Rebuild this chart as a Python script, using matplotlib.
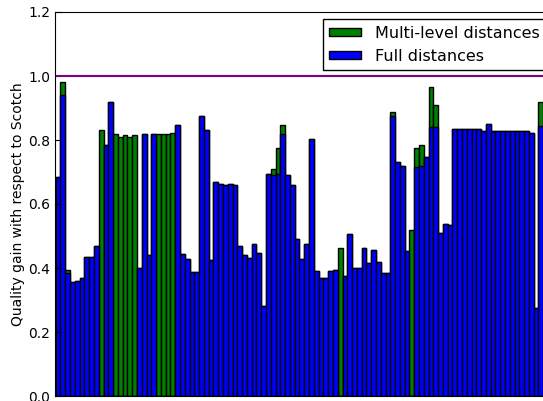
import matplotlib
matplotlib.use("Agg")
import matplotlib.pyplot as plt
import numpy as np

# quality gain for each graph
full_dist = [0.685, 0.94, 0.385, 0.355, 0.36, 0.37, 0.435, 0.435, 0.47, 0.0,
             0.785, 0.92, 0.0, 0.0, 0.0, 0.0, 0.0, 0.40, 0.82, 0.44,
             0.82, 0.0, 0.0, 0.0, 0.0, 0.847, 0.443, 0.429, 0.387, 0.387,
             0.875, 0.831, 0.425, 0.669, 0.662, 0.658, 0.661, 0.658, 0.468, 0.44,
             0.431, 0.476, 0.448, 0.281, 0.693, 0.69, 0.693, 0.819, 0.69, 0.658,
             0.49, 0.428, 0.475, 0.804, 0.39, 0.37, 0.37, 0.391, 0.393, 0.0,
             0.375, 0.507, 0.399, 0.399, 0.461, 0.417, 0.455, 0.42, 0.384, 0.384,
             0.875, 0.732, 0.718, 0.453, 0.0, 0.716, 0.718, 0.748, 0.84, 0.84,
             0.51, 0.539, 0.534, 0.835, 0.835, 0.835, 0.835, 0.835, 0.835, 0.829,
             0.849, 0.829, 0.829, 0.829, 0.829, 0.829, 0.829, 0.829, 0.829, 0.821,
             0.276, 0.845]

multi_dist = [0.685, 0.98, 0.395, 0.355, 0.36, 0.37, 0.435, 0.435, 0.47, 0.83,
              0.785, 0.92, 0.82, 0.81, 0.815, 0.81, 0.815, 0.40, 0.82, 0.44,
              0.82, 0.82, 0.82, 0.82, 0.822, 0.847, 0.443, 0.429, 0.387, 0.387,
              0.875, 0.831, 0.425, 0.669, 0.662, 0.658, 0.661, 0.658, 0.468, 0.44,
              0.431, 0.476, 0.448, 0.281, 0.693, 0.709, 0.776, 0.847, 0.69, 0.658,
              0.49, 0.428, 0.475, 0.804, 0.39, 0.37, 0.37, 0.391, 0.393, 0.4625,
              0.375, 0.507, 0.399, 0.399, 0.461, 0.417, 0.455, 0.42, 0.384, 0.384,
              0.889, 0.732, 0.718, 0.453, 0.518, 0.774, 0.783, 0.748, 0.967, 0.909,
              0.51, 0.539, 0.534, 0.835, 0.835, 0.835, 0.835, 0.835, 0.835, 0.829,
              0.849, 0.829, 0.829, 0.829, 0.829, 0.829, 0.829, 0.829, 0.829, 0.821,
              0.276, 0.918]

scotch_ref = 1.0

fig = plt.figure(figsize=(5.43, 4.01), dpi=100)
# the original axes runs past the right edge of the picture
ax = fig.add_axes([55 / 543, 5 / 401, 498 / 543, 384 / 401])

idx = np.arange(len(full_dist))
ax.bar(idx, multi_dist, width=1.0, align='edge', color='g', edgecolor='k',
       linewidth=1.0, label='Multi-level distances')
ax.bar(idx, full_dist, width=1.0, align='edge', color='b', edgecolor='k',
       linewidth=1.0, label='Full distances')
ax.axhline(scotch_ref, color='purple', linewidth=1.5)

ax.set_xlim(-0.15, -0.15 + 498 / 4.78)
ax.set_ylim(0, 1.2)
ax.set_yticks(np.arange(0, 1.21, 0.2))
ax.set_xticks([])
ax.tick_params(axis='y', direction='in', labelsize=10, length=4)
ax.set_ylabel("Quality gain with respect to Scotch", fontsize=10, labelpad=2)

ax.legend(loc='upper right', fontsize=11.5, fancybox=False, framealpha=1,
          edgecolor='k', borderaxespad=0.45, borderpad=0.4, labelspacing=0.5,
          handlelength=2.0, handleheight=0.45, handletextpad=0.85)

fig.savefig("out.png", dpi=100)
